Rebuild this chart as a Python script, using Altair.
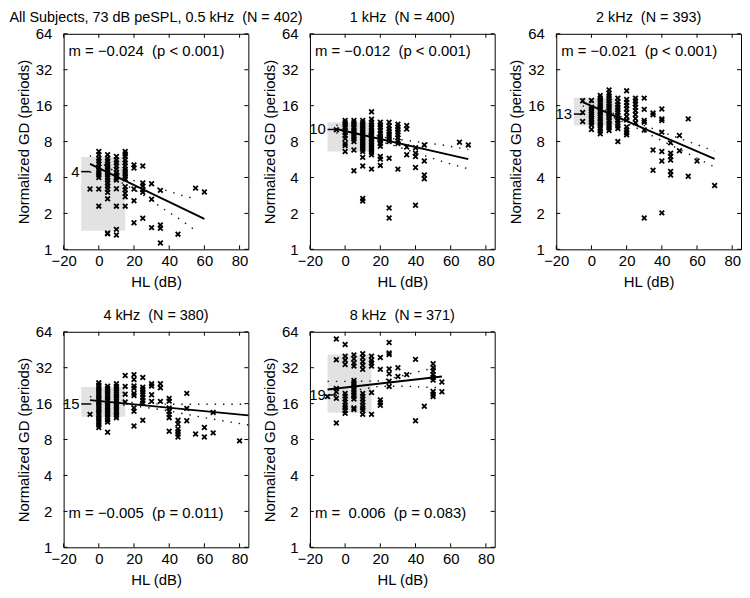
import altair as alt
import pandas as pd

FONT = "Liberation Sans"
W, H = 186, 217

# ---------------- data ----------------
x_ticks = [-20, 0, 20, 40, 60, 80]
y_ticks = [1, 2, 4, 8, 16, 32, 64]
x_domain = [-20, 85]
y_domain = [1, 64]

titles = [
    "All Subjects, 73 dB peSPL, 0.5 kHz\u00a0\u00a0(N = 402)",
    "1 kHz\u00a0\u00a0(N = 400)",
    "2 kHz\u00a0\u00a0(N = 393)",
    "4 kHz\u00a0\u00a0(N = 380)",
    "8 kHz\u00a0\u00a0(N = 371)",
]
stats_text = [
    "m = \u22120.024\u00a0\u00a0(p < 0.001)",
    "m = \u22120.012\u00a0\u00a0(p < 0.001)",
    "m = \u22120.021\u00a0\u00a0(p < 0.001)",
    "m = \u22120.005\u00a0\u00a0(p = 0.011)",
    "m =\u00a0\u00a00.006\u00a0\u00a0(p = 0.083)",
]

# scatter points: HL column -> normalized GD values
gd_05k = {
    -5: [3.2],
    0: [4.0, 4.2, 4.4, 4.6, 4.9, 5.2, 5.5, 5.8, 6.2, 6.6, 3.2, 2.3],
    5: [3.0, 3.2, 3.4, 3.6, 3.8, 4.0, 4.2, 4.4, 4.6, 4.8, 5.0, 5.2, 5.5, 5.8, 6.2, 2.65, 1.37, 1.35],
    10: [3.8, 4.0, 4.2, 4.4, 4.7, 5.0, 5.3, 5.6, 6.0, 3.22, 2.3, 1.47, 1.32],
    15: [3.9, 4.1, 4.3, 4.5, 4.7, 5.0, 5.3, 5.6, 6.0, 6.3, 6.6, 2.75, 2.95, 3.15, 3.35, 2.3],
    20: [5.1, 4.8, 3.2, 2.55, 1.67],
    25: [5.0, 3.6, 3.4, 3.15, 3.0, 1.82],
    30: [3.55, 2.63, 1.52],
    35: [3.12, 1.6, 1.5, 1.13],
    45: [1.34],
    55: [3.26],
    60: [3.02],
}
gd_1k = {
    -5: [10.05],
    0: [8.5, 9.0, 9.5, 10.0, 10.5, 11.0, 11.5, 12.0, 7.7, 7.4, 6.6],
    5: [8.0, 8.4, 8.8, 9.2, 9.6, 10.0, 10.5, 11.0, 11.5, 12.0, 6.8, 4.55],
    10: [6.6, 6.9, 7.2, 7.5, 7.8, 8.1, 8.4, 8.7, 9.0, 9.4, 9.8, 10.2, 10.6, 11.0, 11.5, 12.0, 5.9, 5.0, 2.67, 2.54],
    15: [14.2, 6.2, 6.5, 6.8, 7.1, 7.4, 7.7, 8.0, 8.4, 8.8, 9.2, 9.6, 10.0, 10.5, 11.0, 11.6, 12.3, 4.7],
    20: [7.7, 8.1, 8.5, 8.9, 9.4, 9.9, 10.5, 11.0, 11.6, 7.3, 6.0, 5.7, 5.05],
    25: [8.0, 8.4, 8.8, 9.2, 9.7, 10.2, 10.8, 11.6, 5.8, 2.22, 1.83],
    30: [7.7, 8.1, 8.6, 9.1, 9.6, 10.1, 10.6, 11.2, 4.7],
    35: [10.9, 10.2, 7.2, 6.2],
    40: [7.1, 6.4, 6.0, 4.85, 2.34],
    45: [7.5, 5.5, 4.2, 3.9],
    65: [7.9],
    70: [7.5],
}
gd_2k = {
    -5: [17.6, 14.0, 11.8],
    0: [17.7, 15.5, 15.0, 14.5, 14.0, 13.5, 13.0, 12.5, 12.0, 11.5, 11.0, 10.1],
    5: [9.3, 9.8, 10.3, 10.8, 11.3, 11.8, 12.4, 13.0, 13.6, 14.2, 14.9, 15.6, 16.3, 17.0, 17.8, 18.6, 19.5],
    10: [9.9, 10.4, 10.9, 11.4, 12.0, 12.6, 13.2, 13.8, 14.5, 15.2, 15.9, 16.7, 17.5, 18.4, 19.3, 20.3, 21.7],
    15: [10.3, 10.8, 11.4, 12.0, 12.6, 13.3, 14.0, 14.7, 15.5, 16.3, 17.2, 18.5, 8.0],
    20: [21.3, 18.0, 17.0, 16.0, 15.0, 14.0, 13.0, 12.1, 10.6, 10.0, 9.5, 9.1],
    25: [18.5, 17.5, 16.5, 15.5, 14.5, 13.5, 12.5, 11.5],
    30: [18.5, 14.9, 12.0, 11.6, 10.0, 1.83],
    35: [13.9, 13.4, 6.8, 4.6],
    40: [15.0, 12.4, 12.0, 9.6, 6.6, 5.5, 2.02],
    45: [7.8, 6.4, 6.0, 5.6, 4.5, 4.2],
    50: [9.0, 6.7],
    55: [12.4, 4.1],
    60: [5.5],
    70: [3.43],
}
gd_4k = {
    -5: [13.0],
    0: [10.1, 10.6, 11.1, 11.6, 12.1, 12.7, 13.3, 13.9, 14.5, 15.2, 15.9, 16.6, 17.4, 18.2, 19.0, 19.9, 20.8, 21.8, 22.8, 23.9],
    5: [9.2, 11.2, 11.7, 12.3, 12.9, 13.5, 14.1, 14.8, 15.5, 16.2, 17.0, 17.8, 18.6, 19.5, 20.4, 21.4, 22.4],
    10: [12.2, 12.8, 13.4, 14.0, 14.7, 15.4, 16.1, 16.9, 17.7, 18.5, 19.4, 20.3, 21.3, 22.3, 23.5],
    15: [27.5, 22.3, 19.2, 16.5],
    20: [28.0, 25.5, 22.5, 21.5, 19.5, 18.7, 14.7, 13.8, 10.4],
    25: [26.5, 22.0, 21.0, 20.0, 19.0, 18.0, 17.0, 16.2, 11.6],
    30: [23.5, 22.5, 19.0, 16.7],
    35: [23.5, 21.7, 16.7],
    40: [17.7, 16.8, 14.7, 13.8, 13.0, 12.2, 9.4],
    45: [11.6, 10.8, 9.8, 9.3, 8.9, 8.4],
    50: [19.5, 14.6, 11.5],
    55: [8.9],
    60: [10.1, 8.4],
    65: [13.5, 9.1],
    80: [7.8],
}
gd_8k = {
    -10: [18.3],
    -5: [55.7, 37.3, 21.4, 20.1, 17.7, 11.0],
    0: [50.0, 40.0, 37.0, 34.0, 19.5, 18.5, 17.5, 16.5, 15.5, 14.8, 14.0, 13.3],
    5: [41.0, 38.0, 35.0, 33.0, 25.0, 24.0, 23.0, 22.0, 21.0, 20.0, 19.0, 18.3, 17.5, 14.7, 14.3],
    10: [42.0, 39.0, 36.0, 33.5, 31.0, 19.5, 18.5, 17.5, 16.5, 15.5, 14.7, 14.0, 13.0],
    15: [40.0, 37.0, 35.0, 33.0, 19.8, 13.0],
    20: [39.0, 31.0, 17.2, 16.3, 15.5],
    25: [52.0, 42.5, 41.3, 31.3, 28.5, 24.7, 22.3],
    30: [32.0, 27.0],
    35: [28.0],
    40: [37.6, 11.5],
    45: [15.2],
    50: [34.5, 32.0, 30.0, 28.0, 26.5, 25.2, 20.2, 19.2, 18.3],
    55: [24.3, 20.1],
}
panel_points = [gd_05k, gd_1k, gd_2k, gd_4k, gd_8k]

# normal-hearing range (grey box) and its median marker
normal_x = [-10, 15]
normal_lo = [1.43, 6.6, 10.9, 12.4, 13.4]
normal_hi = [5.94, 11.6, 18.6, 22.1, 41.3]
median_x = [-10, -5]
median_val = [4.48, 10.1, 13.6, 15.9, 18.9]
median_label = ["4", "10", "13", "15", "19"]
label_x = -11

# regression lines
fit_x = [[-5, 60], [-5, 70], [-5, 70], [-5, 85], [-10, 55]]
fit_y = [[5.21, 1.80], [10.2, 5.7], [17.1, 5.72], [17.1, 12.75], [21.0, 27.0]]

# confidence bands
band_x = [
    [-5, 5, 15, 25, 37, 47, 56],
    [-5, 10, 25, 35, 45, 55, 70],
    [-5, 10, 25, 40, 55, 70],
    [-5, 10, 25, 40, 55, 70, 85],
    [-10, 5, 20, 35, 45, 55],
]
band_upper = [
    [6.1, 4.9, 4.0, 3.55, 3.16, 2.84, 2.62],
    [11.0, 9.46, 8.54, 8.17, 7.84, 7.5, 6.87],
    [18.33, 14.22, 11.59, 9.63, 8.01, 6.67],
    [18.3, 16.85, 16.05, 15.8, 15.8, 15.8, 15.8],
    [24.6, 24.6, 24.8, 28.0, 30.5, 32.8],
]
band_lower = [
    [4.45, 4.0, 3.5, 2.87, 2.17, 1.75, 1.4],
    [9.45, 8.71, 7.64, 6.83, 6.11, 5.46, 4.73],
    [15.95, 13.27, 10.52, 8.15, 6.33, 4.9],
    [15.9, 15.7, 15.0, 13.9, 12.6, 11.5, 10.6],
    [17.9, 20.6, 22.4, 22.4, 22.0, 21.8],
]

XSHAPE = "M-1,-1L1,1M-1,1L1,-1"


def panel(i, top_row):
    xs = alt.Scale(domain=x_domain, nice=False, zero=False)
    ys = alt.Scale(type="log", base=2, domain=y_domain, nice=False)
    xaxis = alt.Axis(values=x_ticks, title="HL (dB)", grid=False, ticks=False,
                     domain=False, labelPadding=4, titlePadding=6, format="d",
                     labelFlush=False)
    yaxis = alt.Axis(values=y_ticks, title="Normalized GD (periods)", grid=False,
                     ticks=False, domain=False, labelPadding=12, titlePadding=4,
                     format="d", labelFlush=False)

    def X(f):
        return alt.X(f, scale=xs, axis=xaxis)

    def Y(f):
        return alt.Y(f, scale=ys, axis=yaxis)

    pts = pd.DataFrame([{"x": k, "y": v} for k, vs in panel_points[i].items() for v in vs])
    rect_df = pd.DataFrame({"x1": [normal_x[0]], "x2": [normal_x[1]],
                            "y1": [normal_lo[i]], "y2": [normal_hi[i]]})
    fit_df = pd.DataFrame({"x": fit_x[i], "y": fit_y[i]})
    band_df = pd.DataFrame(
        [{"x": x, "y": y, "b": "upper"} for x, y in zip(band_x[i], band_upper[i])]
        + [{"x": x, "y": y, "b": "lower"} for x, y in zip(band_x[i], band_lower[i])]
    )
    med_df = pd.DataFrame({"x1": [median_x[0]], "x2": [median_x[1]], "y": [median_val[i]],
                           "lx": [label_x], "t": [median_label[i]]})
    ann_df = pd.DataFrame({"t": [stats_text[i]]})
    xt_df = pd.DataFrame({"t": x_ticks})
    yt_df = pd.DataFrame({"t": y_ticks})

    rect = alt.Chart(rect_df).mark_rect(color="#e2e2e2").encode(
        x=X("x1:Q"), x2="x2:Q", y=Y("y1:Q"), y2="y2:Q")
    bands = alt.Chart(band_df).mark_line(color="#111111", strokeWidth=1.4,
                                         strokeDash=[1.4, 7]).encode(
        x=X("x:Q"), y=Y("y:Q"), detail="b:N")
    fit = alt.Chart(fit_df).mark_line(color="black", strokeWidth=1.9).encode(
        x=X("x:Q"), y=Y("y:Q"))
    scat = alt.Chart(pts).mark_point(shape=XSHAPE, size=22, filled=False, stroke="black",
                                     strokeWidth=1.8, opacity=1).encode(
        x=X("x:Q"), y=Y("y:Q"))
    dash = alt.Chart(med_df).mark_rule(color="black", strokeWidth=1.5).encode(
        x=X("x1:Q"), x2="x2:Q", y=Y("y:Q"))
    lab = alt.Chart(med_df).mark_text(align="right", baseline="middle", font=FONT,
                                      fontSize=15, color="black").encode(
        x=X("lx:Q"), y=Y("y:Q"), text="t:N")
    ann_y = 17.7 if top_row else 182
    ann = alt.Chart(ann_df).mark_text(align="left", baseline="middle", font=FONT,
                                      fontSize=15, color="black").encode(
        x=alt.value(5), y=alt.value(ann_y), text="t:N")
    tb = alt.Chart(xt_df).mark_rule(color="black", strokeWidth=1).encode(
        x=X("t:Q"), y=alt.value(H), y2=alt.value(H - 4))
    tt = alt.Chart(xt_df).mark_rule(color="black", strokeWidth=1).encode(
        x=X("t:Q"), y=alt.value(0), y2=alt.value(4))
    tl = alt.Chart(yt_df).mark_rule(color="black", strokeWidth=1).encode(
        y=Y("t:Q"), x=alt.value(0), x2=alt.value(4))
    tr = alt.Chart(yt_df).mark_rule(color="black", strokeWidth=1).encode(
        y=Y("t:Q"), x=alt.value(W), x2=alt.value(W - 4))

    return alt.layer(rect, bands, fit, scat, dash, lab, ann, tb, tt, tl, tr).properties(
        width=W, height=H,
        title=alt.TitleParams(titles[i], anchor="middle", frame="group"))


panels = [panel(i, i < 3) for i in range(5)]

chart = alt.concat(*panels, columns=3, spacing={"row": 83, "column": 62},
                   bounds="flush").properties(padding=0).configure_view(
    stroke="black", strokeWidth=1
).configure_axis(
    labelFont=FONT, titleFont=FONT, labelFontSize=15, titleFontSize=15,
    titleFontWeight="normal", labelColor="black", titleColor="black"
).configure_title(
    font=FONT, fontSize=14.5, fontWeight="normal", color="black", offset=1
)

chart.save("out.html", embed_options={"renderer": "svg", "actions": False})
